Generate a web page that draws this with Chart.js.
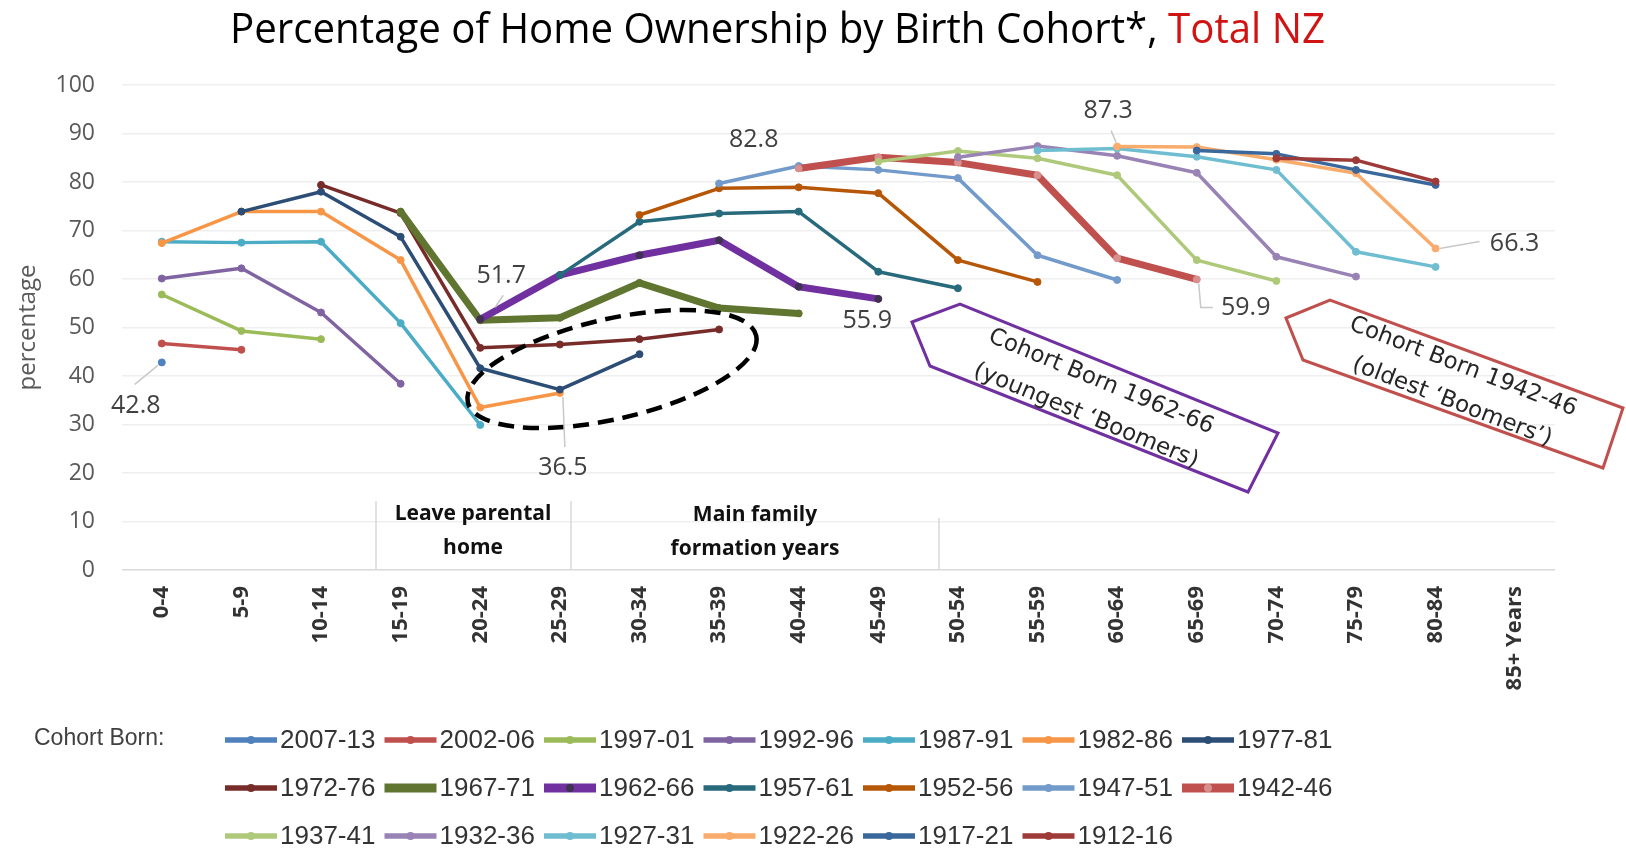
<!DOCTYPE html>
<html>
<head>
<meta charset="utf-8">
<title>Home Ownership by Birth Cohort</title>
<script src="https://cdn.jsdelivr.net/npm/chart.js@4.4.1/dist/chart.umd.min.js"></script>
<style>
  html, body { margin: 0; padding: 0; background: #fff; }
  canvas { display: block; }
</style>
</head>
<body>
<canvas id="ownership-chart" width="1626" height="849"></canvas>
<script>
// x axis - age groups
const ageGroups = ['0-4', '5-9', '10-14', '15-19', '20-24', '25-29', '30-34', '35-39', '40-44',
  '45-49', '50-54', '55-59', '60-64', '65-69', '70-74', '75-79', '80-84', '85+ Years'];
const yTicks = [0, 10, 20, 30, 40, 50, 60, 70, 80, 90, 100];

const cohorts = ['2007-13', '2002-06', '1997-01', '1992-96', '1987-91', '1982-86', '1977-81',
  '1972-76', '1967-71', '1962-66', '1957-61', '1952-56', '1947-51', '1942-46',
  '1937-41', '1932-36', '1927-31', '1922-26', '1917-21', '1912-16'];

// % owning their home, by age group (null = no census for that age)
const c2007_13 = [42.8];
const c2002_06 = [46.7, 45.4];
const c1997_01 = [56.8, 49.3, 47.6];
const c1992_96 = [60.1, 62.2, 53.1, 38.4];
const c1987_91 = [67.7, 67.5, 67.7, 50.9, 29.9];
const c1982_86 = [67.4, 73.9, 73.9, 63.9, 33.5, 36.5];
const c1977_81 = [null, 73.9, 78.0, 68.7, 41.6, 37.2, 44.5];
const c1972_76 = [null, null, 79.4, 73.6, 45.8, 46.5, 47.6, 49.6];
const c1967_71 = [null, null, null, 73.9, 51.5, 52.0, 59.2, 54.0, 52.9];
const c1962_66 = [null, null, null, null, 51.7, 60.8, 64.9, 68.0, 58.4, 55.9];
const c1957_61 = [null, null, null, null, null, 60.8, 71.8, 73.5, 73.9, 61.5, 58.1];
const c1952_56 = [null, null, null, null, null, null, 73.2, 78.7, 78.9, 77.7, 63.9, 59.4];
const c1947_51 = [null, null, null, null, null, null, null, 79.7, 83.3, 82.5, 80.8, 64.9, 59.8];
const c1942_46 = [null, null, null, null, null, null, null, null, 82.8, 85.1, 84.0, 81.4, 64.3, 59.9];
const c1937_41 = [null, null, null, null, null, null, null, null, null, 84.2, 86.4, 84.9, 81.4, 63.9, 59.6];
const c1932_36 = [null, null, null, null, null, null, null, null, null, null, 85.1, 87.4, 85.4, 81.9, 64.6, 60.5];
const c1927_31 = [null, null, null, null, null, null, null, null, null, null, null, 86.5, 86.9, 85.2, 82.5, 65.6, 62.5];
const c1922_26 = [null, null, null, null, null, null, null, null, null, null, null, null, 87.3, 87.2, 84.6, 81.8, 66.3];
const c1917_21 = [null, null, null, null, null, null, null, null, null, null, null, null, null, 86.5, 85.8, 82.5, 79.4];
const c1912_16 = [null, null, null, null, null, null, null, null, null, null, null, null, null, null, 84.9, 84.5, 80.1];

const seriesData = [c2007_13, c2002_06, c1997_01, c1992_96, c1987_91, c1982_86, c1977_81,
  c1972_76, c1967_71, c1962_66, c1957_61, c1952_56, c1947_51, c1942_46,
  c1937_41, c1932_36, c1927_31, c1922_26, c1917_21, c1912_16];

const lineColors = ['#4F81BD', '#C0504D', '#9BBB59', '#8064A2', '#4BACC6', '#F79646', '#2C4D75',
  '#772C2A', '#5F7530', '#7030A0', '#276A7C', '#B65708', '#729ACA', '#C0504D',
  '#AFC97A', '#9983B5', '#6FBDD1', '#F9AB6B', '#3A679C', '#9E3B39'];
const markerColors = ['#4F81BD', '#C0504D', '#9BBB59', '#8064A2', '#4BACC6', '#F79646', '#2C4D75',
  '#772C2A', '#5F7530', '#403152', '#276A7C', '#B65708', '#729ACA', '#D98F8D',
  '#AFC97A', '#9983B5', '#6FBDD1', '#F9AB6B', '#3A679C', '#9E3B39'];
const boldCohorts = ['1967-71', '1962-66', '1942-46'];

// data labels that are called out on the chart
const valueNotes = [
  { cohort: '2007-13', age: '0-4', dx: -26, dy: 43, lead: [[-4, 3], [-27, 22]] },
  { cohort: '1962-66', age: '20-24', dx: 21, dy: -43, lead: [[15, -12], [23, -24]] },
  { cohort: '1982-86', age: '25-29', dx: 3, dy: 75, lead: [[3, 4], [5, 54]] },
  { cohort: '1962-66', age: '45-49', dx: -11, dy: 22, lead: [] },
  { cohort: '1942-46', age: '40-44', dx: -45, dy: -29, lead: [] },
  { cohort: '1922-26', age: '60-64', dx: -9, dy: -36, lead: [[-1, -4], [-6, -16]] },
  { cohort: '1942-46', age: '65-69', dx: 49, dy: 28, lead: [[2, 4], [4, 28], [16, 28]] },
  { cohort: '1922-26', age: '80-84', dx: 79, dy: -5, lead: [[4, 0], [44, -7]] }
];

const datasets = cohorts.map((name, i) => {
  const bold = boldCohorts.includes(name);
  return {
    label: name,
    data: seriesData[i],
    borderColor: lineColors[i],
    backgroundColor: markerColors[i],
    pointBackgroundColor: markerColors[i],
    pointBorderColor: markerColors[i],
    borderWidth: bold ? 7 : 3.5,
    pointRadius: 3.5,
    pointBorderWidth: 1,
    pointHoverRadius: 3.5,
    borderJoinStyle: 'round',
    borderCapStyle: 'round',
    tension: 0,
    spanGaps: false,
    order: cohorts.length - i
  };
});

function drawTitle(ctx) {
  const partA = 'Percentage of Home Ownership by Birth Cohort*, ';
  const partB = 'Total NZ';
  ctx.save();
  ctx.font = '42px "Open Sans"';
  const wA = ctx.measureText(partA).width;
  const wB = ctx.measureText(partB).width;
  const sx = 1095 / (wA + wB);
  ctx.translate(230, 43);
  ctx.scale(sx, 1);
  ctx.textBaseline = 'alphabetic';
  ctx.textAlign = 'left';
  ctx.fillStyle = '#000000';
  ctx.fillText(partA, 0, 0);
  ctx.fillStyle = '#D01414';
  ctx.fillText(partB, wA, 0);
  ctx.restore();
}

function drawAreaNotes(ctx) {
  ctx.save();
  ctx.strokeStyle = '#D9D9D9';
  ctx.lineWidth = 1.5;
  [[376, 501], [571, 501], [939, 518]].forEach(([x, y]) => {
    ctx.beginPath();
    ctx.moveTo(x, y);
    ctx.lineTo(x, 570);
    ctx.stroke();
  });
  ctx.fillStyle = '#111111';
  ctx.font = 'bold 21px "Open Sans"';
  ctx.textAlign = 'center';
  ctx.textBaseline = 'middle';
  ctx.fillText('Leave parental', 473, 514);
  ctx.fillText('home', 473, 548);
  ctx.fillText('Main family', 755, 515);
  ctx.fillText('formation years', 755, 549);
  ctx.restore();
}

function drawEllipse(ctx) {
  ctx.save();
  ctx.strokeStyle = '#000000';
  ctx.lineWidth = 4.5;
  ctx.setLineDash([16, 9]);
  ctx.beginPath();
  ctx.ellipse(612, 369, 148, 50, -13 * Math.PI / 180, 0, Math.PI * 2);
  ctx.stroke();
  ctx.restore();
}

function drawCallout(ctx, pts, color, lines, centers, angleDeg) {
  ctx.save();
  ctx.strokeStyle = color;
  ctx.lineWidth = 3;
  ctx.lineJoin = 'miter';
  ctx.beginPath();
  pts.forEach(([x, y], i) => (i ? ctx.lineTo(x, y) : ctx.moveTo(x, y)));
  ctx.closePath();
  ctx.stroke();
  ctx.fillStyle = '#262626';
  ctx.font = '23px "DejaVu Sans"';
  ctx.textAlign = 'center';
  ctx.textBaseline = 'middle';
  lines.forEach((t, i) => {
    ctx.save();
    ctx.translate(centers[i][0], centers[i][1]);
    ctx.rotate(angleDeg * Math.PI / 180);
    ctx.fillText(t, 0, 0);
    ctx.restore();
  });
  ctx.restore();
}

function drawValueNotes(chart) {
  const ctx = chart.ctx;
  ctx.save();
  ctx.font = '25px "Open Sans"';
  ctx.textAlign = 'center';
  ctx.textBaseline = 'middle';
  valueNotes.forEach(n => {
    const di = cohorts.indexOf(n.cohort);
    const ai = ageGroups.indexOf(n.age);
    const pt = chart.getDatasetMeta(di).data[ai];
    const v = seriesData[di][ai];
    if (n.lead.length) {
      ctx.strokeStyle = '#C8C8C8';
      ctx.lineWidth = 1.5;
      ctx.beginPath();
      n.lead.forEach(([dx, dy], i) => (i ? ctx.lineTo(pt.x + dx, pt.y + dy) : ctx.moveTo(pt.x + dx, pt.y + dy)));
      ctx.stroke();
    }
    ctx.fillStyle = '#404040';
    ctx.fillText(v.toFixed(1), pt.x + n.dx, pt.y + n.dy);
  });
  ctx.restore();
}

function drawLegend(chart) {
  const ctx = chart.ctx;
  ctx.save();
  ctx.fillStyle = '#404040';
  ctx.font = '23px "Liberation Sans"';
  ctx.textAlign = 'left';
  ctx.textBaseline = 'middle';
  ctx.fillText('Cohort Born:', 34, 739);
  ctx.font = '26px "Liberation Sans"';
  chart.data.datasets.forEach((ds, k) => {
    const x0 = 225 + (k % 7) * 159.5;
    const y = 740 + Math.floor(k / 7) * 48;
    ctx.strokeStyle = ds.borderColor;
    ctx.lineWidth = ds.borderWidth + 2;
    ctx.lineCap = 'butt';
    ctx.beginPath();
    ctx.moveTo(x0, y);
    ctx.lineTo(x0 + 52, y);
    ctx.stroke();
    ctx.fillStyle = ds.pointBackgroundColor;
    ctx.beginPath();
    ctx.arc(x0 + 26, y, 4, 0, Math.PI * 2);
    ctx.fill();
    ctx.fillStyle = '#333333';
    ctx.fillText(ds.label, x0 + 55, y + 1);
  });
  ctx.restore();
}

const overlay = {
  id: 'overlay',
  afterDraw(chart) {
    const ctx = chart.ctx;
    drawTitle(ctx);
    drawAreaNotes(ctx);
    drawEllipse(ctx);
    drawCallout(ctx, [[912, 322], [960, 304], [1278, 433], [1248, 492], [930, 366]], '#7030A0',
      ['Cohort Born 1962-66', '(youngest \u2018Boomers)'], [[1101, 382], [1086, 416]], 22.5);
    drawCallout(ctx, [[1286, 318], [1330, 300], [1623, 408], [1603, 468], [1303, 360]], '#C0504D',
      ['Cohort Born 1942-46', '(oldest \u2018Boomers\u2019)'], [[1463, 367], [1452, 402]], 21);
    drawValueNotes(chart);
    drawLegend(chart);
  }
};

const ctx = document.getElementById('ownership-chart');

new Chart(ctx, {
  type: 'line',
  data: {
    labels: ageGroups,
    datasets: datasets
  },
  options: {
    responsive: false,
    animation: false,
    devicePixelRatio: 1,
    layout: { padding: { top: 85, right: 71, left: 0, bottom: 0 } },
    plugins: {
      legend: { display: false },
      title: { display: false },
      tooltip: { enabled: false }
    },
    scales: {
      x: {
        type: 'category',
        offset: true,
        grid: { display: false, drawTicks: false },
        border: { display: false },
        ticks: {
          autoSkip: false,
          maxRotation: 90,
          minRotation: 90,
          padding: 16,
          color: '#333333',
          font: { family: 'Open Sans', size: 22, weight: 'bold' }
        },
        afterFit: scale => { scale.height = 279; }
      },
      y: {
        min: yTicks[0],
        max: yTicks[yTicks.length - 1],
        afterBuildTicks: scale => { scale.ticks = yTicks.map(v => ({ value: v })); },
        grid: {
          drawTicks: false,
          lineWidth: 1.5,
          color: c => (c.tick && c.tick.value === 0 ? '#D9D9D9' : '#EFEFEF')
        },
        border: { display: false },
        ticks: {
          padding: 27,
          color: '#595959',
          font: { family: 'Open Sans', size: 23 }
        },
        title: {
          display: true,
          text: 'percentage',
          color: '#595959',
          padding: { top: 14, bottom: 0 },
          font: { family: 'Open Sans', size: 24 }
        },
        afterFit: scale => { scale.width = 122; }
      }
    }
  },
  plugins: [overlay]
});
</script>
</body>
</html>
